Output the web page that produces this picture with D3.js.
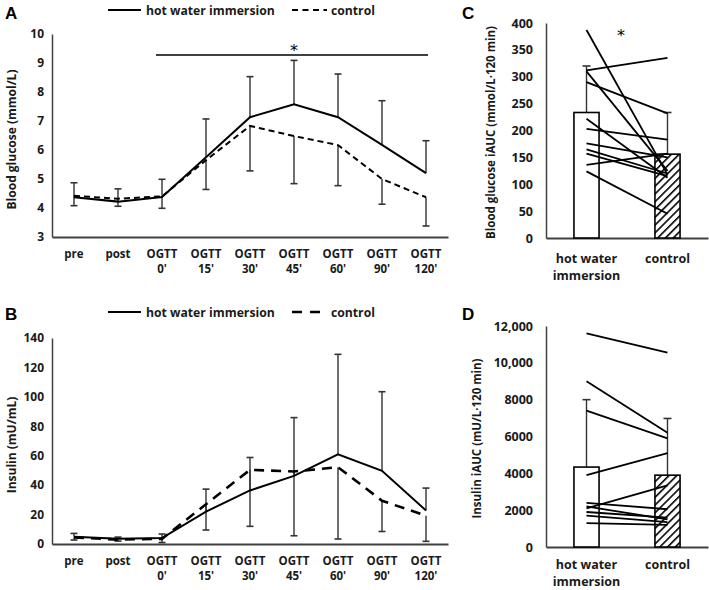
<!DOCTYPE html>
<html><head><meta charset="utf-8">
<script src="https://cdn.jsdelivr.net/npm/d3@7"></script>
<style>
body{margin:0;background:#fff;}
svg text{font-family:"Open Sans",Lato,sans-serif;font-weight:700;fill:#1a1a1a;}
svg text.letter{font-family:"Liberation Sans",Arial,sans-serif;fill:#000;}
svg text.star{font-family:"DejaVu Sans",sans-serif;fill:#000;font-weight:400;}
</style></head>
<body><svg id="c" width="709" height="590"></svg>
<script>
const categories = ["pre","post","OGTT 0'","OGTT 15'","OGTT 30'","OGTT 45'","OGTT 60'","OGTT 90'","OGTT 120'"];
// Panel A: blood glucose (mmol/L)
const glucoseHot = [4.37,4.22,4.38,5.75,7.13,7.58,7.13,6.18,5.2];
const glucoseHotSD = [0.5,0.44,0.61,1.32,1.4,1.51,1.49,1.52,1.12];
const glucoseCtrl = [4.42,4.32,4.4,5.65,6.83,6.48,6.17,5.0,4.37];
const glucoseCtrlSD = [0.34,0.26,0.41,1.01,1.55,1.64,1.4,0.87,0.99];
const glucoseTicks = [3,4,5,6,7,8,9,10];
// Panel B: insulin (mU/mL)
const insulinHot = [5,3.5,4,22,36.4,46.3,61,49.7,22.8];
const insulinHotSD = [2.2,1.2,2.8,15.3,22.4,39.6,67.9,53.8,15.2];
const insulinCtrl = [4.5,3,3.5,27,50.4,49.3,52.2,29.4,19.2];
const insulinCtrlSD = [1.8,1,2.5,17.5,38.4,43.7,48.8,20.9,17.4];
const insulinTicks = [0,20,40,60,80,100,120,140];
// Panels C & D
const groups = ["hot water immersion","control"];
const glucoseAUCMean = [233.5,156];
const glucoseAUCSD = [86.5,77.5];
const glucoseAUCHot = [387,312,310,290,222,203,176,165,157,136,124];
const glucoseAUCCtrl = [118,335,125,232,112,183,150,120,115,157,45];
const glucoseAUCTicks = [0,50,100,150,200,250,300,350,400];
const insulinAUCMean = [4340,3900];
const insulinAUCSD = [3660,3080];
const insulinAUCHot = [11600,9000,7400,3900,2100,2400,2200,1900,1700,1300];
const insulinAUCCtrl = [10550,6200,5900,5100,3350,2050,1500,1600,1350,1200];
const insulinAUCTicks = [0,2000,4000,6000,8000,10000,12000];

const svg = d3.select("#c");
const AX = "#404040";

const defs = svg.append("defs");
const pat = defs.append("pattern").attr("id","hatch").attr("patternUnits","userSpaceOnUse")
  .attr("width",5.5).attr("height",5.5).attr("patternTransform","rotate(45)");
pat.append("rect").attr("width",5.5).attr("height",5.5).attr("fill","#fff");
pat.append("line").attr("x1",0).attr("y1",0).attr("x2",0).attr("y2",5.5).attr("stroke","#000").attr("stroke-width",3.2);

function panelLetter(t,x,y){
  svg.append("text").attr("class","letter").attr("x",x).attr("y",y).attr("font-size",17).text(t);
}

function linePanel(opt){
  const x = d3.scaleBand().domain(categories).range([52,448]);
  const y = d3.scaleLinear().domain(opt.domain).range([opt.bottom,opt.top]);
  const g = svg.append("g");
  const ya = g.append("g").attr("transform","translate(52,0)")
    .call(d3.axisLeft(y).tickValues(opt.ticks).tickSize(0).tickPadding(8).tickFormat(d3.format("d")));
  ya.select(".domain").attr("stroke",AX).attr("stroke-width",1.5);
  ya.selectAll("text").attr("font-size",12);
  const xa = g.append("g").attr("transform",`translate(0,${opt.bottom})`)
    .call(d3.axisBottom(x).tickSize(0).tickFormat(""));
  xa.select(".domain").attr("stroke",AX).attr("stroke-width",2);
  categories.forEach(c=>{
    const parts = c.split(" ");
    const t = g.append("text").attr("text-anchor","middle").attr("font-size",11.5);
    parts.forEach((p,i)=>t.append("tspan").attr("x",x(c)+x.bandwidth()/2).attr("y",opt.bottom+21+i*15).text(p));
  });
  g.append("text").attr("transform",`translate(16,${(opt.top+opt.bottom)/2+4}) rotate(-90)`)
    .attr("text-anchor","middle").attr("font-size",12).text(opt.title);
  const cx = c=>x(c)+x.bandwidth()/2;
  function err(vals,sd,dir){
    vals.forEach((v,i)=>{
      const xc = cx(categories[i]); const y0=y(v), y1=y(v+dir*sd[i]);
      g.append("line").attr("x1",xc).attr("x2",xc).attr("y1",y0).attr("y2",y1).attr("stroke","#333").attr("stroke-width",1.4);
      g.append("line").attr("x1",xc-3.5).attr("x2",xc+3.5).attr("y1",y1).attr("y2",y1).attr("stroke","#333").attr("stroke-width",1.6);
    });
  }
  err(opt.hot,opt.hotSD,1);
  err(opt.ctrl,opt.ctrlSD,-1);
  const line = d3.line().x((d,i)=>cx(categories[i])).y(d=>y(d));
  g.append("path").datum(opt.ctrl).attr("d",line).attr("fill","none").attr("stroke","#000")
    .attr("stroke-width",opt.dashW).attr("stroke-dasharray",opt.dash);
  g.append("path").datum(opt.hot).attr("d",line).attr("fill","none").attr("stroke","#000").attr("stroke-width",2);
  const ly = opt.legendY;
  g.append("line").attr("x1",108).attr("x2",141).attr("y1",ly).attr("y2",ly).attr("stroke","#000").attr("stroke-width",2);
  g.append("text").attr("x",146).attr("y",ly+4.5).attr("font-size",12.2).text("hot water immersion");
  g.append("line").attr("x1",292).attr("x2",opt.legDashEnd).attr("y1",ly).attr("y2",ly).attr("stroke","#000")
    .attr("stroke-width",opt.dashW).attr("stroke-dasharray",opt.legDash);
  g.append("text").attr("x",331).attr("y",ly+4.5).attr("font-size",12.2).text("control");
  return {g,x,y,cx};
}

const A = linePanel({domain:[3,10],top:34,bottom:237,ticks:glucoseTicks,title:"Blood glucose (mmol/L)",
  hot:glucoseHot,hotSD:glucoseHotSD,ctrl:glucoseCtrl,ctrlSD:glucoseCtrlSD,dash:"6,4",dashW:2,
  legendY:10,legDash:"6,4.5",legDashEnd:327});
A.g.append("line").attr("x1",A.cx("OGTT 0'")-6).attr("x2",A.cx("OGTT 120'")+2).attr("y1",55).attr("y2",55)
  .attr("stroke","#000").attr("stroke-width",1.6);
A.g.append("text").attr("class","star").attr("x",A.cx("OGTT 45'")).attr("y",56).attr("text-anchor","middle").attr("font-size",16).text("*");

linePanel({domain:[0,140],top:338,bottom:544,ticks:insulinTicks,title:"Insulin (mU/mL)",
  hot:insulinHot,hotSD:insulinHotSD,ctrl:insulinCtrl,ctrlSD:insulinCtrlSD,dash:"10,7",dashW:2.6,
  legendY:312,legDash:"10,8",legDashEnd:320});

function barPanel(opt){
  const x = d3.scaleBand().domain(groups).range([546,708]);
  const y = d3.scaleLinear().domain(opt.domain).range([opt.bottom,opt.top]);
  const g = svg.append("g");
  const ya = g.append("g").attr("transform","translate(546,0)")
    .call(d3.axisLeft(y).tickValues(opt.ticks).tickSize(0).tickPadding(13).tickFormat(opt.fmt));
  ya.select(".domain").attr("stroke",AX).attr("stroke-width",1.5);
  ya.selectAll("text").attr("font-size",12.5);
  const xa = g.append("g").attr("transform",`translate(0,${opt.bottom})`).call(d3.axisBottom(x).tickSize(0).tickFormat(""));
  xa.select(".domain").attr("stroke",AX).attr("stroke-width",2);
  const cx = d=>x(d)+x.bandwidth()/2;
  const bw = x.bandwidth()*0.31;
  groups.forEach((gname,i)=>{
    const parts = gname==="control"?["control"]:["hot water","immersion"];
    const t = g.append("text").attr("text-anchor","middle").attr("font-size",12.5);
    parts.forEach((p,j)=>t.append("tspan").attr("x",cx(gname)).attr("y",opt.bottom+opt.lab1+j*16.5).text(p));
    const y0=y(opt.mean[i]), y1=y(opt.mean[i]+opt.sd[i]);
    g.append("line").attr("x1",cx(gname)).attr("x2",cx(gname)).attr("y1",y0).attr("y2",y1).attr("stroke","#333").attr("stroke-width",1.4);
    g.append("line").attr("x1",cx(gname)-4).attr("x2",cx(gname)+4).attr("y1",y1).attr("y2",y1).attr("stroke","#333").attr("stroke-width",1.6);
    g.append("rect").attr("x",cx(gname)-bw/2).attr("width",bw).attr("y",y0).attr("height",opt.bottom-y0)
      .attr("fill",i===0?"#fff":"url(#hatch)").attr("stroke","#000").attr("stroke-width",1.6);
  });
  opt.hot.forEach((v,i)=>{
    g.append("line").attr("x1",cx(groups[0])).attr("x2",cx(groups[1])).attr("y1",y(v)).attr("y2",y(opt.ctrl[i]))
      .attr("stroke","#000").attr("stroke-width",1.8);
  });
  g.append("text").attr("transform",`translate(${opt.titleX},${(opt.top+opt.bottom)/2+2}) rotate(-90)`)
    .attr("text-anchor","middle").attr("font-size",11.5).text(opt.title);
  return {g,x,y,cx};
}

const C = barPanel({domain:[0,400],top:23,bottom:238,ticks:glucoseAUCTicks,fmt:d3.format("d"),
  mean:glucoseAUCMean,sd:glucoseAUCSD,hot:glucoseAUCHot,ctrl:glucoseAUCCtrl,lab1:25,
  title:"Blood glucose iAUC (mmol/L·120 min)",titleX:495});
C.g.append("text").attr("class","star").attr("x",621).attr("y",41).attr("text-anchor","middle").attr("font-size",16).text("*");

barPanel({domain:[0,12000],top:326,bottom:547,ticks:insulinAUCTicks,lab1:22,
  fmt:d=>d>=10000?d3.format(",")(d):d3.format("d")(d),
  mean:insulinAUCMean,sd:insulinAUCSD,hot:insulinAUCHot,ctrl:insulinAUCCtrl,
  title:"Insulin iAUC (mU/L·120 min)",titleX:481});

panelLetter("A",5,19);
panelLetter("B",5,320);
panelLetter("C",462,19);
panelLetter("D",462,320);
</script></body></html>
